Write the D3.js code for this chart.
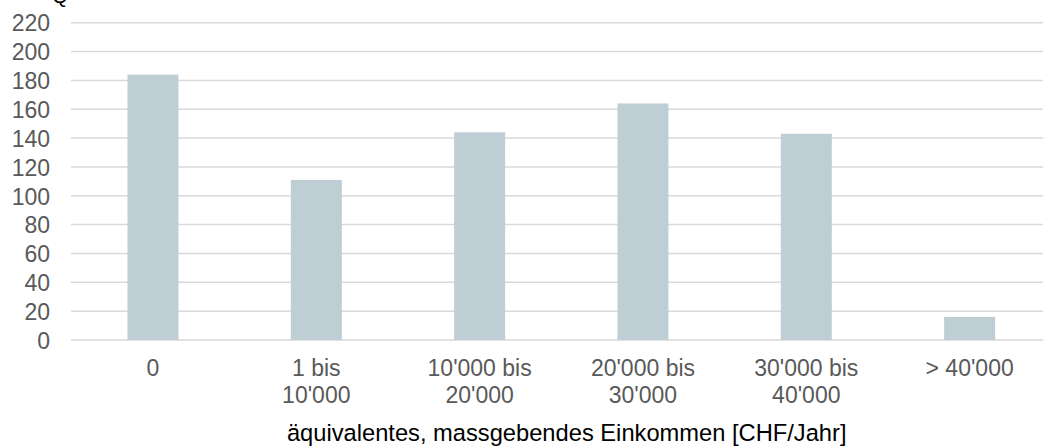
<!DOCTYPE html>
<html>
<head>
<meta charset="utf-8">
<script src="https://cdn.jsdelivr.net/npm/d3@7"></script>
<style>
  html, body { margin: 0; padding: 0; background: #fff; }
  svg { display: block; }
  text { font-family: "Liberation Sans", Arial, sans-serif; fill: #595959; }
</style>
</head>
<body>
<script>
const categories = [["0"], ["1 bis", "10'000"], ["10'000 bis", "20'000"], ["20'000 bis", "30'000"], ["30'000 bis", "40'000"], ["> 40'000"]];
const values = [184, 111, 144, 164, 143, 16];
const yTicks = [0, 20, 40, 60, 80, 100, 120, 140, 160, 180, 200, 220];
const xTitle = "äquivalentes, massgebendes Einkommen [CHF/Jahr]";

const W = 1043, H = 448;
const svg = d3.select("body").append("svg").attr("width", W).attr("height", H);

const x = d3.scaleBand().domain(d3.range(categories.length)).range([71.3, 1051.3]).paddingInner(0.688).paddingOuter(0.344);
const y = d3.scaleLinear().domain([0, 220]).range([340, 22.7]);

// gridlines
svg.append("g").selectAll("line").data(yTicks).join("line")
  .attr("x1", 71).attr("x2", 1051)
  .attr("y1", d => y(d)).attr("y2", d => y(d))
  .attr("stroke", "#d9d9d9").attr("stroke-width", 1.5);

// y axis labels
const yAxis = d3.axisLeft(y).tickValues(yTicks).tickSize(0).tickPadding(0);
const gy = svg.append("g").attr("transform", "translate(50,0)").call(yAxis);
gy.select(".domain").remove();
gy.selectAll("text").style("font-size", "23px").attr("fill", "#595959").attr("dy", "0.36em")
  .style("font-family", "'Liberation Sans', Arial, sans-serif");

// bars
svg.append("g").selectAll("rect").data(values).join("rect")
  .attr("x", (d, i) => x(i)).attr("width", x.bandwidth())
  .attr("y", d => y(d)).attr("height", d => y(0) - y(d))
  .attr("fill", "#bfcdd4");

// x labels
const gx = svg.append("g");
categories.forEach((lines, i) => {
  const t = gx.append("text").attr("x", x(i) + x.bandwidth() / 2).attr("y", 376)
    .attr("text-anchor", "middle").style("font-size", "23px");
  lines.forEach((l, j) => {
    t.append("tspan").attr("x", x(i) + x.bandwidth() / 2).attr("y", 376 + j * 27).text(l);
  });
});

// axis title
svg.append("text").attr("x", 566.7).attr("y", 441).attr("text-anchor", "middle")
  .style("font-size", "23.7px").style("fill", "#000").text(xTitle);

// cut-off label at top
svg.append("text").attr("x", 60).attr("y", 3).attr("text-anchor", "middle")
  .style("font-size", "20px").style("fill", "#000").text("Q");
</script>
</body>
</html>
